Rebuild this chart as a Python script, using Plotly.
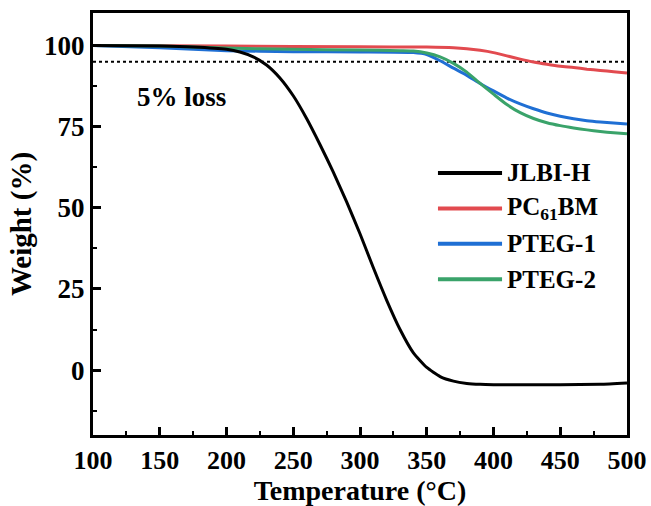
import plotly.graph_objects as go

# Thermogravimetric curves: temperature (°C) vs remaining weight (%)
temp_jlbi = [100, 150, 175, 200, 210, 220, 230, 240, 250, 260, 270, 280, 290, 300,
             310, 320, 330, 340, 350, 360, 370, 380, 390, 400, 450, 480, 500]
weight_jlbi = [100, 99.8, 99.5, 98.8, 98.0, 96.5, 94.0, 90.0, 84.5, 77.5, 69.5, 61.0, 51.8, 42.0,
               31.5, 21.5, 12.5, 5.3, 0.8, -2.0, -3.4, -4.1, -4.4, -4.5, -4.5, -4.4, -4.0]

temp_pc61 = [100, 200, 300, 350, 370, 380, 390, 400, 410, 420, 430, 440, 450, 460, 470, 480, 490, 500]
weight_pc61 = [100, 99.8, 99.6, 99.5, 99.3, 99.0, 98.5, 97.8, 96.8, 95.8, 94.9, 94.2, 93.6, 93.2,
               92.7, 92.3, 91.9, 91.5]

temp_pteg1 = [100, 150, 200, 250, 300, 340, 350, 360, 370, 380, 390, 400, 410, 420, 430, 440,
              450, 460, 470, 480, 490, 500]
weight_pteg1 = [100, 99.3, 98.4, 98.1, 98.0, 97.8, 97.2, 95.3, 93.0, 90.8, 88.3, 86.0, 83.8, 82.0,
                80.5, 79.2, 78.2, 77.4, 76.8, 76.4, 76.1, 75.8]

temp_pteg2 = [100, 150, 200, 250, 300, 330, 340, 350, 360, 370, 380, 390, 400, 410, 420, 430,
              440, 450, 460, 470, 480, 490, 500]
weight_pteg2 = [100, 99.8, 99.2, 98.8, 98.6, 98.4, 98.3, 97.7, 96.5, 94.5, 91.8, 88.3, 85.0, 81.8,
                79.3, 77.5, 76.2, 75.3, 74.6, 74.0, 73.5, 73.1, 72.8]

series_names = ["JLBI-H", "PC<sub>61</sub>BM", "PTEG-1", "PTEG-2"]
series_colors = ["#000000", "#E24A4F", "#1F6FD4", "#3AA36A"]
series_temps = [temp_jlbi, temp_pc61, temp_pteg1, temp_pteg2]
series_weights = [weight_jlbi, weight_pc61, weight_pteg1, weight_pteg2]

threshold_temp = [100, 500]
threshold_weight = [95, 95]

FONT = "Liberation Serif"

fig = go.Figure()

# 5 % weight-loss reference line
fig.add_trace(go.Scatter(x=threshold_temp, y=threshold_weight, mode="lines",
                         line=dict(color="black", width=2, dash="dot"),
                         showlegend=False, hoverinfo="skip"))

# draw coloured series first so the black curve sits on top
for i in [1, 2, 3, 0]:
    fig.add_trace(go.Scatter(x=series_temps[i], y=series_weights[i], mode="lines",
                             name=series_names[i],
                             line=dict(color=series_colors[i], width=3, shape="spline",
                                       smoothing=0.5),
                             showlegend=False))

# hand-built legend box (long sample lines)
leg_top = 0.621
leg_step = 0.084
for i, (name, color) in enumerate(zip(series_names, series_colors)):
    yy = leg_top - i * leg_step
    fig.add_shape(type="line", xref="paper", yref="paper",
                  x0=0.646, x1=0.766, y0=yy, y1=yy,
                  line=dict(color=color, width=4))
    fig.add_annotation(x=0.772, y=yy, xref="paper", yref="paper",
                       text="<b>%s</b>" % name, showarrow=False,
                       xanchor="left", yanchor="middle",
                       font=dict(family=FONT, size=25, color="black"))

fig.add_annotation(x=0.079, y=0.80, xref="paper", yref="paper",
                   text="<b>5% loss</b>", showarrow=False,
                   xanchor="left", yanchor="middle",
                   font=dict(family=FONT, size=27, color="black"))

axis_common = dict(
    showline=True, linecolor="black", linewidth=3, mirror=True,
    ticks="inside", ticklen=8, tickwidth=3, tickcolor="black",
    showgrid=False, zeroline=False, automargin=False,
    tickfont=dict(family=FONT, size=27, color="black", weight="bold"),
)

fig.update_xaxes(
    range=[100, 500], tick0=100, dtick=50,
    minor=dict(ticks="inside", ticklen=4, tickwidth=2, dtick=25, tick0=100, tickcolor="black"),
    title=dict(text="Temperature (°C)", standoff=7,
               font=dict(family=FONT, size=28, color="black", weight="bold")),
    **axis_common,
)
fig.update_xaxes(tickfont=dict(size=26))
fig.update_yaxes(
    range=[-20, 110], tick0=0, dtick=25,
    minor=dict(ticks="inside", ticklen=4, tickwidth=2, dtick=12.5, tick0=0, tickcolor="black"),
    title=dict(text="Weight (%)", standoff=4,
               font=dict(family=FONT, size=29, color="black", weight="bold")),
    **axis_common,
)

fig.update_layout(
    width=651, height=506,
    margin=dict(l=93, r=24, t=13, b=71),
    plot_bgcolor="white", paper_bgcolor="white",
    showlegend=False,
)

fig.write_html("out.html")
